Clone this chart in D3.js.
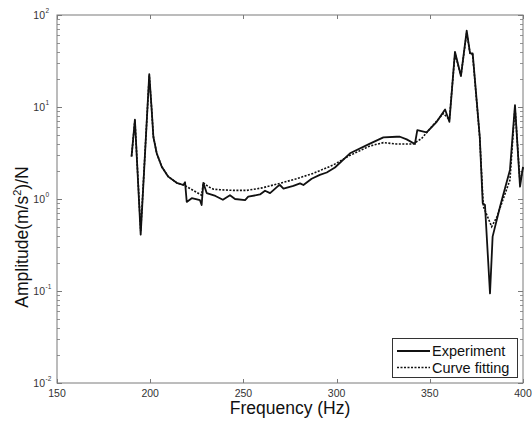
<!DOCTYPE html>
<html><head><meta charset="utf-8">
<script src="https://cdn.jsdelivr.net/npm/d3@7"></script>
<style>body{margin:0;background:#fff}</style>
</head><body>
<script>
const xTicks = [150, 200, 250, 300, 350, 400];
const yExponents = [-2, -1, 0, 1, 2];

const expFreq = [190, 191.8, 194.9, 199.5, 200.8, 201.7, 203.5, 206.2, 209.7, 214.2, 217.8, 218.7, 219.6, 222.3, 226.7, 227.6, 228.5, 230.3, 235, 239, 242.8, 245.5, 250.9, 252.6, 258.9, 261.6, 264.3, 268.7, 269.6, 271.5, 276.8, 280.4, 282.2, 286.6, 291, 294.7, 299.1, 307.2, 317.9, 325.1, 332.2, 334, 337.6, 342, 343.3, 348.3, 353.7, 358.2, 360.5, 363.5, 366.7, 369.8, 371.6, 373, 376.8, 378.4, 379.6, 382.3, 383.7, 387.7, 393, 395.7, 398.4, 400];
const expAmp = [2.9, 7.3, 0.41, 22.8, 9.3, 4.75, 3.14, 2.24, 1.75, 1.5, 1.42, 1.52, 0.93, 1.02, 0.97, 0.86, 1.5, 1.16, 1.08, 0.98, 1.1, 1.0, 0.97, 1.06, 1.12, 1.23, 1.16, 1.39, 1.42, 1.3, 1.39, 1.48, 1.42, 1.66, 1.83, 1.94, 2.2, 3.14, 4.0, 4.68, 4.75, 4.75, 4.45, 3.96, 5.6, 5.3, 6.9, 9.4, 6.9, 39.8, 21.7, 67.7, 38.3, 38.3, 4.75, 0.9, 0.86, 0.094, 0.39, 0.83, 2.07, 10.5, 1.36, 2.24];

const fitFreq = [190, 191.8, 194.9, 199.5, 200.8, 201.7, 203.5, 206.2, 209.7, 214.2, 218, 227.6, 228.5, 231.2, 233.9, 237.4, 245, 251.8, 260, 269.6, 278, 287.5, 298.2, 307.2, 317.9, 325.1, 332.2, 341.1, 345.6, 351.9, 357.3, 360.5, 363.5, 366.7, 369.8, 371.6, 373, 376.8, 378.7, 383.2, 386, 393, 395.7, 398.4, 400];
const fitAmp = [2.9, 7.2, 0.45, 22, 9.3, 4.75, 3.14, 2.24, 1.75, 1.5, 1.42, 1.1, 1.5, 1.36, 1.28, 1.26, 1.24, 1.24, 1.32, 1.48, 1.65, 1.9, 2.34, 2.98, 3.77, 4.1, 3.96, 3.96, 4.55, 6.4, 8.5, 7.3, 38, 22, 64, 38, 37, 4.6, 0.83, 0.5, 0.64, 1.61, 10, 1.5, 2.2];

const W = 532, H = 423;
const m = {left: 57, right: 523, top: 15, bottom: 383};
const svg = d3.select("body").append("svg").attr("width", W).attr("height", H)
  .style("font-family", "'Liberation Sans', Arial, sans-serif");

const x = d3.scaleLinear().domain([150, 400]).range([m.left, m.right]);
const y = d3.scaleLog().domain([0.01, 100]).range([m.bottom, m.top]);

const axisColor = "#7a7a7a";
svg.append("rect").attr("x", m.left).attr("y", m.top)
  .attr("width", m.right - m.left).attr("height", m.bottom - m.top)
  .attr("fill", "none").attr("stroke", axisColor).attr("stroke-width", 1);

const g = svg.append("g");
xTicks.forEach(t => {
  const xp = Math.round(x(t)) + 0.5;
  g.append("line").attr("x1", xp).attr("x2", xp).attr("y1", m.bottom).attr("y2", m.bottom - 4).attr("stroke", axisColor);
  g.append("line").attr("x1", xp).attr("x2", xp).attr("y1", m.top).attr("y2", m.top + 4).attr("stroke", axisColor);
  g.append("text").attr("x", x(t)).attr("y", 397).attr("text-anchor", "middle")
    .attr("font-size", 10.5).attr("fill", "#333").text(t);
});

yExponents.forEach(e => {
  const v = Math.pow(10, e);
  const yp = Math.round(y(v)) + 0.5;
  g.append("line").attr("x1", m.left).attr("x2", m.left + 5).attr("y1", yp).attr("y2", yp).attr("stroke", axisColor);
  g.append("line").attr("x1", m.right).attr("x2", m.right - 5).attr("y1", yp).attr("y2", yp).attr("stroke", axisColor);
  g.append("text").attr("x", 45).attr("y", y(v) + 3.5).attr("text-anchor", "end")
    .attr("font-size", 10.5).attr("fill", "#333").text("10");
  g.append("text").attr("x", 45.5).attr("y", y(v) - 2).attr("font-size", 6.5).attr("fill", "#333").text(e);
  if (e < 2) {
    for (let k = 2; k <= 9; k++) {
      const mp = Math.round(y(k * v)) + 0.5;
      g.append("line").attr("x1", m.left).attr("x2", m.left + 3).attr("y1", mp).attr("y2", mp).attr("stroke", axisColor).attr("stroke-width", 0.8);
      g.append("line").attr("x1", m.right).attr("x2", m.right - 3).attr("y1", mp).attr("y2", mp).attr("stroke", axisColor).attr("stroke-width", 0.8);
    }
  }
});

const line = d3.line().x(d => x(d[0])).y(d => y(d[1]));
const expData = expFreq.map((f, i) => [f, expAmp[i]]);
const fitData = fitFreq.map((f, i) => [f, fitAmp[i]]);

svg.append("path").datum(fitData).attr("d", line).attr("fill", "none")
  .attr("stroke", "#111").attr("stroke-width", 1.6).attr("stroke-dasharray", "2,1.5");
svg.append("path").datum(expData).attr("d", line).attr("fill", "none")
  .attr("stroke", "#111").attr("stroke-width", 1.8).attr("stroke-linejoin", "round");

const lg = svg.append("g");
lg.append("rect").attr("x", 392.5).attr("y", 338.5).attr("width", 125).attr("height", 39)
  .attr("fill", "#fff").attr("stroke", "#333").attr("stroke-width", 1);
lg.append("line").attr("x1", 397).attr("x2", 430).attr("y1", 351).attr("y2", 351)
  .attr("stroke", "#111").attr("stroke-width", 1.8);
lg.append("line").attr("x1", 397).attr("x2", 430).attr("y1", 367.5).attr("y2", 367.5)
  .attr("stroke", "#111").attr("stroke-width", 1.4).attr("stroke-dasharray", "2,1.5");
lg.append("text").attr("x", 432).attr("y", 355.5).attr("font-size", 14.5).attr("fill", "#111").text("Experiment");
lg.append("text").attr("x", 432).attr("y", 372.5).attr("font-size", 14.5).attr("fill", "#111").text("Curve fitting");

svg.append("text").attr("x", (m.left + m.right) / 2).attr("y", 414).attr("text-anchor", "middle")
  .attr("font-size", 17.5).attr("fill", "#111").text("Frequency (Hz)");
const yl = svg.append("text").attr("transform", "translate(28,237) rotate(-90)")
  .attr("text-anchor", "middle").attr("font-size", 17.5).attr("fill", "#111");
yl.append("tspan").text("Amplitude(m/s");
yl.append("tspan").attr("font-size", 11).attr("dy", -7).text("2");
yl.append("tspan").attr("dy", 7).text(")/N");
</script>
</body></html>
